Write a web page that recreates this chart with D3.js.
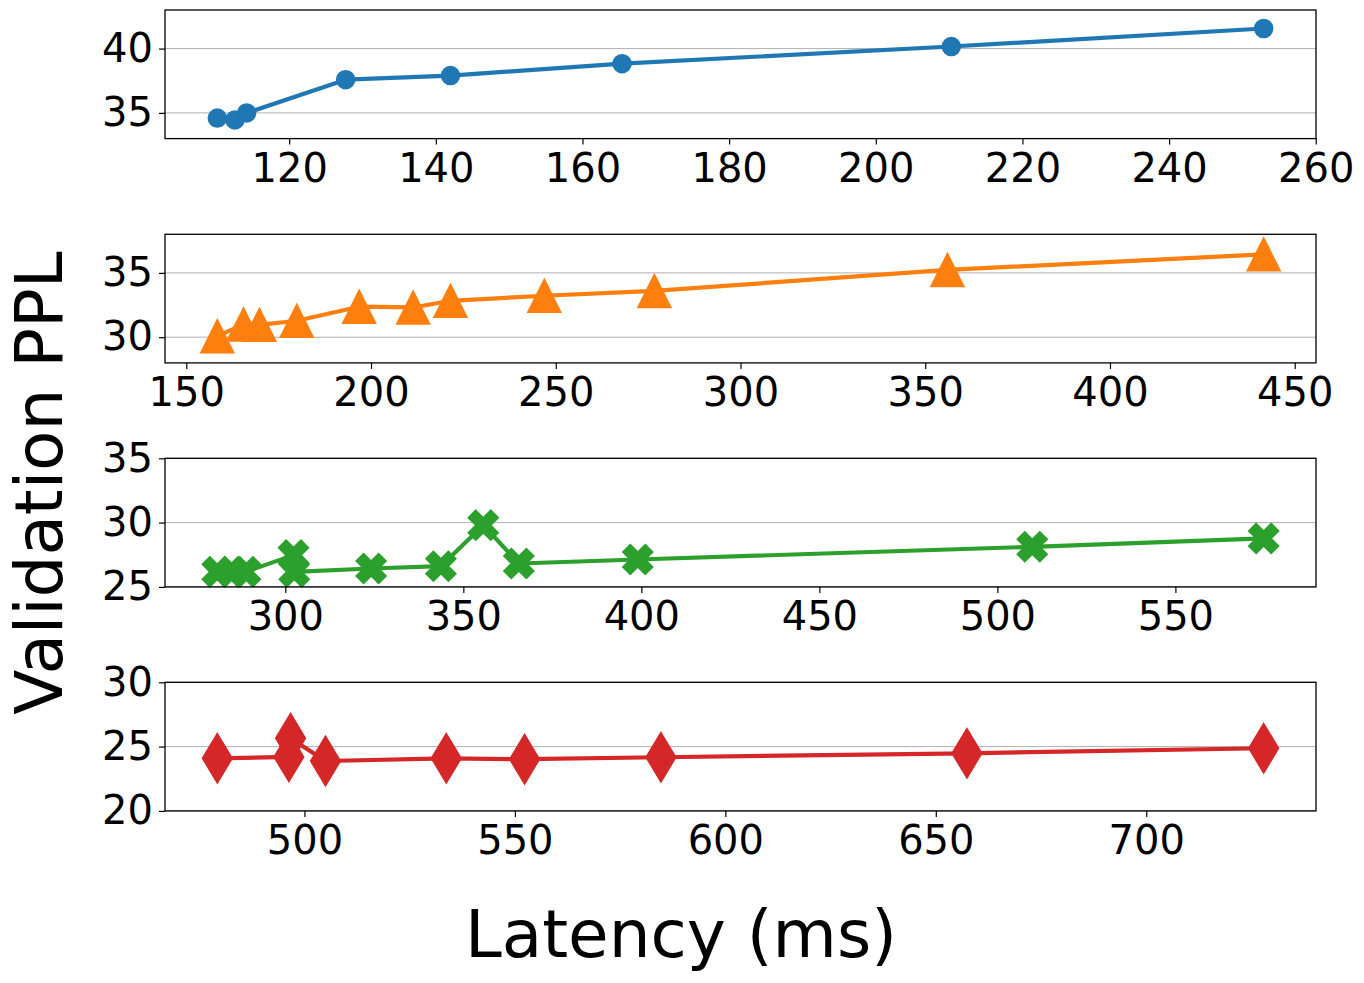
<!DOCTYPE html>
<html>
<head>
<meta charset="utf-8">
<script src="https://cdn.jsdelivr.net/npm/d3@7"></script>
<style>
  body { margin: 0; background: #fff; }
  svg { font-family: "DejaVu Sans", sans-serif; }
</style>
</head>
<body>
<div id="vis-container"></div>
<script>
// latency (ms) / validation ppl, one pair of arrays per subplot
var lat1 = [110.2, 112.6, 114.2, 127.7, 142.0, 165.4, 210.3, 252.9];
var ppl1 = [34.6, 34.45, 35.0, 37.58, 37.9, 38.83, 40.16, 41.56];

var lat2 = [158.4, 165.5, 169.8, 179.9, 196.8, 211.4, 221.5, 246.9, 276.7, 356.0, 441.6];
var ppl2 = [30.08, 30.99, 30.96, 31.28, 32.37, 32.31, 32.83, 33.22, 33.6, 35.23, 36.44];

var lat3 = [280.9, 285.1, 288.8, 302.3, 302.5, 324.1, 343.7, 355.6, 365.6, 399.0, 509.8, 574.8];
var ppl3 = [26.17, 26.17, 26.17, 27.47, 26.17, 26.43, 26.61, 29.8, 26.82, 27.13, 28.12, 28.77];

var lat4 = [479.3, 496.3, 496.7, 505.0, 533.7, 552.3, 584.7, 657.4, 727.9];
var ppl4 = [24.09, 24.2, 25.65, 23.88, 24.09, 24.02, 24.17, 24.48, 24.87];

var xticks1 = [120, 140, 160, 180, 200, 220, 240, 260];
var xticks2 = [150, 200, 250, 300, 350, 400, 450];
var xticks3 = [300, 350, 400, 450, 500, 550];
var xticks4 = [500, 550, 600, 650, 700];

var yticks1 = [35, 40];
var yticks2 = [30, 35];
var yticks3 = [25, 30, 35];
var yticks4 = [20, 25, 30];

var ylim1 = [33, 43];
var ylim2 = [28, 38];
var ylim3 = [25, 35];
var ylim4 = [20, 30];

var width = 1364;
var height = 983;
var left = 165, right = 1316;
var panelh = 128.6;
var tops = [10, 234.3, 458.3, 682.3];
var colors = ["#1f77b4", "#ff7f0e", "#2ca02c", "#d62728"];

// marker shapes, roughly like matplotlib o ^ X d
function circle(s) {
	var r = s / 2;
	return "M" + r + ",0A" + r + "," + r + " 0 1,1 " + (-r) + ",0A" + r + "," + r + " 0 1,1 " + r + ",0Z";
}
function triangle(s) {
	var h = s / 2;
	return "M0," + (-h) + "L" + (-h) + "," + h + "L" + h + "," + h + "Z";
}
function xfilled(s) {
	var u = s / 4;
	var pts = [[-1, -2], [0, -1], [1, -2], [2, -1], [1, 0], [2, 1], [1, 2], [0, 1], [-1, 2], [-2, 1], [-1, 0], [-2, -1]];
	return "M" + pts.map(function(p) { return (p[0] * u) + "," + (p[1] * u); }).join("L") + "Z";
}
function thindiamond(s) {
	var h = s * 0.7071, w = h * 0.6;
	return "M0," + (-h) + "L" + w + ",0L0," + h + "L" + (-w) + ",0Z";
}

var panels = [
	{ x: lat1, y: ppl1, xt: xticks1, yt: yticks1, yl: ylim1, marker: circle, size: 18 },
	{ x: lat2, y: ppl2, xt: xticks2, yt: yticks2, yl: ylim2, marker: triangle, size: 33 },
	{ x: lat3, y: ppl3, xt: xticks3, yt: yticks3, yl: ylim3, marker: xfilled, size: 30 },
	{ x: lat4, y: ppl4, xt: xticks4, yt: yticks4, yl: ylim4, marker: thindiamond, size: 35 }
];

var svg = d3.select("#vis-container")
	.append("svg")
	.attr("width", width)
	.attr("height", height);

panels.forEach(function(p, i) {
	var g = svg.append("g")
		.attr("transform", "translate(" + left + "," + tops[i] + ")");
	var w = right - left;

	// matplotlib style 5% x margins
	var xmin = d3.min(p.x), xmax = d3.max(p.x);
	var pad = (xmax - xmin) * 0.05;
	var xscale = d3.scaleLinear().domain([xmin - pad, xmax + pad]).range([0, w]);
	var yscale = d3.scaleLinear().domain(p.yl).range([panelh, 0]);

	// y grid
	g.selectAll(".grid")
		.data(p.yt)
		.enter()
		.append("line")
		.attr("x1", 0)
		.attr("x2", w)
		.attr("y1", function(d) { return yscale(d); })
		.attr("y2", function(d) { return yscale(d); })
		.attr("stroke", "#b0b0b0")
		.attr("stroke-width", 1);

	var line = d3.line()
		.x(function(d) { return xscale(d[0]); })
		.y(function(d) { return yscale(d[1]); });
	var pts = p.x.map(function(v, k) { return [v, p.y[k]]; });

	g.append("path")
		.datum(pts)
		.attr("d", line)
		.attr("fill", "none")
		.attr("stroke", colors[i])
		.attr("stroke-width", 4.2)
		.attr("stroke-linejoin", "round");

	g.selectAll(".mark")
		.data(pts)
		.enter()
		.append("path")
		.attr("transform", function(d) { return "translate(" + xscale(d[0]) + "," + yscale(d[1]) + ")"; })
		.attr("d", p.marker(p.size))
		.attr("fill", colors[i])
		.attr("stroke", colors[i])
		.attr("stroke-width", 1.5)
		.attr("stroke-linejoin", "miter");

	// frame
	g.append("rect")
		.attr("width", w)
		.attr("height", panelh)
		.attr("fill", "none")
		.attr("stroke", "#000")
		.attr("stroke-width", 1.3);

	var xaxis = d3.axisBottom(xscale).tickValues(p.xt).tickSize(6).tickPadding(9).tickSizeOuter(0);
	var yaxis = d3.axisLeft(yscale).tickValues(p.yt).tickSize(6).tickPadding(6).tickSizeOuter(0);

	var xg = g.append("g")
		.attr("transform", "translate(0," + panelh + ")")
		.call(xaxis);
	var yg = g.append("g").call(yaxis);

	[xg, yg].forEach(function(a) {
		a.select(".domain").remove();
		a.selectAll("line").attr("stroke", "#000").attr("stroke-width", 1.2);
		a.selectAll("text")
			.attr("fill", "#000")
			.style("font-size", "40px")
			.style("font-family", "DejaVu Sans");
	});
});

svg.append("text")
	.attr("transform", "translate(62,483) rotate(-90)")
	.attr("text-anchor", "middle")
	.style("font-size", "66px")
	.text("Validation PPL");

svg.append("text")
	.attr("x", 681)
	.attr("y", 957)
	.attr("text-anchor", "middle")
	.style("font-size", "66px")
	.text("Latency (ms)");
</script>
</body>
</html>
